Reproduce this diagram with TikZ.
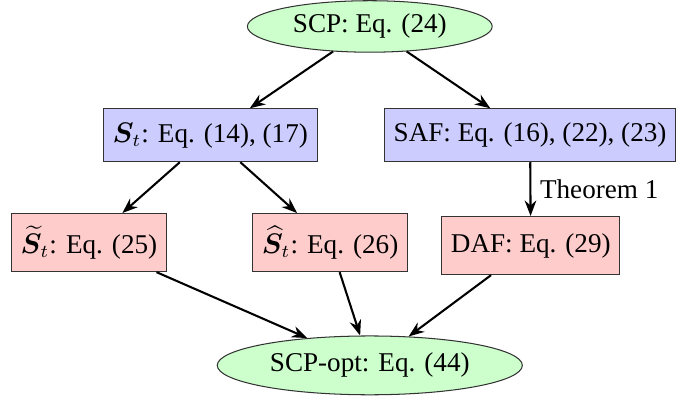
\documentclass[tikz,border=0pt]{standalone}
\usepackage{amsmath,bm}
\usepackage{fontspec}
\setmainfont{Liberation Serif}
\usetikzlibrary{arrows.meta,shapes.geometric}
\tikzset{
  prob/.style={ellipse, draw=black!80, fill=green!20, inner sep=0pt},
  eqbox/.style={rectangle, draw=black!80, fill=blue!20, inner xsep=3.6pt, minimum height=0.72cm},
  subbox/.style={rectangle, draw=black!80, fill=red!20, inner xsep=3.6pt, minimum height=0.79cm},
  link/.style={-{Stealth[length=6pt,width=4.5pt]}, line width=0.8pt}
}
\begin{document}
\begin{tikzpicture}[font=\fontsize{10.5pt}{13pt}\selectfont]
\useasboundingbox (0,0) rectangle (9.44,5.43);
\node[prob, minimum width=3.33cm, minimum height=0.70cm] (scp) at (5.03,5.07) {SCP: Eq. (24)};
\node[eqbox] (st) at (2.86,3.59) {$\bm{S}_t$: Eq. (14), (17)};
\node[eqbox] (saf) at (7.21,3.59) {SAF: Eq. (16), (22), (23)};
\node[subbox] (stt) at (1.21,2.13) {$\widetilde{\bm{S}}_t$: Eq. (25)};
\node[subbox] (sth) at (4.49,2.13) {$\widehat{\bm{S}}_t$: Eq. (26)};
\node[subbox] (daf) at (7.22,2.09) {DAF: Eq. (29)};
\node[prob, minimum width=4.15cm, minimum height=0.80cm] (opt) at (5.03,0.46) {SCP-opt: Eq. (44)};
\draw[link] (scp) -- (st);
\draw[link] (scp) -- (saf);
\draw[link] (st) -- (stt);
\draw[link] (st) -- (sth);
\draw[link] (saf) -- node[right] {Theorem 1} (daf);
\draw[link] (stt) -- (opt);
\draw[link] (sth) -- (opt);
\draw[link] (daf) -- (opt);
\end{tikzpicture}
\end{document}
